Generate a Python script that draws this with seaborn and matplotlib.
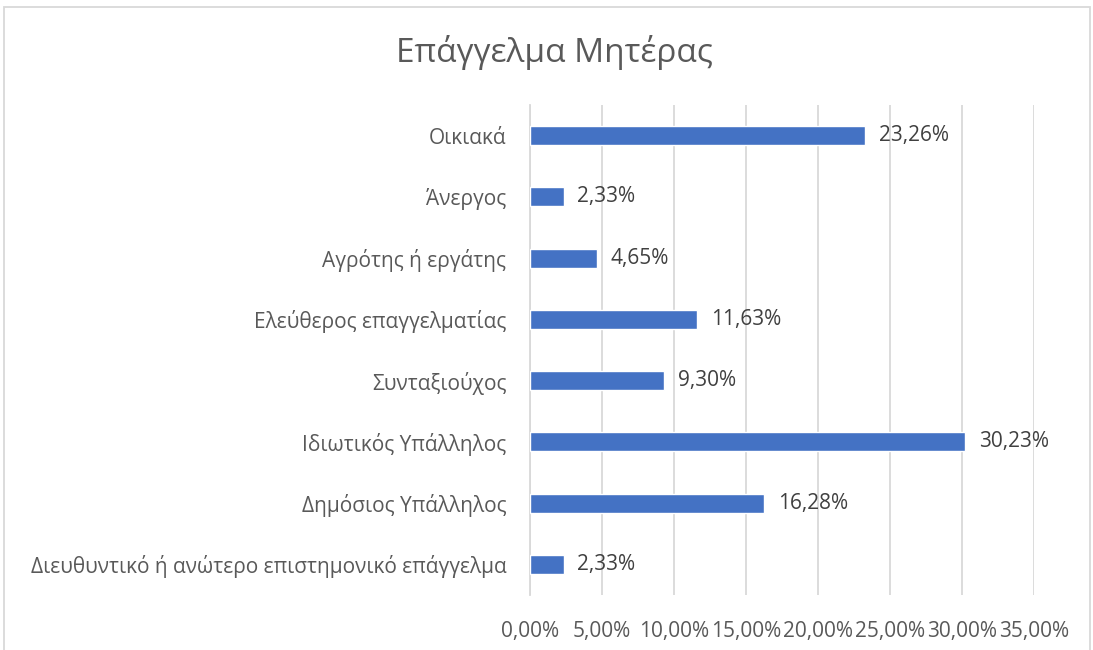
import matplotlib
matplotlib.use("Agg")
import matplotlib.pyplot as plt
import seaborn as sns
import pandas as pd
from matplotlib.patches import Rectangle

categories = [
    "Οικιακά",
    "Άνεργος",
    "Αγρότης ή εργάτης",
    "Ελεύθερος επαγγελματίας",
    "Συνταξιούχος",
    "Ιδιωτικός Υπάλληλος",
    "Δημόσιος Υπάλληλος",
    "Διευθυντικό ή ανώτερο επιστημονικό επάγγελμα",
]
values = [23.26, 2.33, 4.65, 11.63, 9.30, 30.23, 16.28, 2.33]
xticks = [0, 5, 10, 15, 20, 25, 30, 35]
title = "Επάγγελμα Μητέρας"

sns.set_theme(style="white")
plt.rcParams["font.family"] = ["Open Sans", "DejaVu Sans"]

df = pd.DataFrame({"cat": categories, "val": values})

fig = plt.figure(figsize=(10.93, 6.5), dpi=100)
ax = fig.add_axes([530/1093, 1-595/650, 504/1093, 490/650])

sns.barplot(data=df, x="val", y="cat", color="#4472C4", width=0.31,
            saturation=1, ax=ax, zorder=3)

ax.set_xlim(0, 35)
ax.set_xticks(xticks)
ax.set_xticklabels([f"{t:.2f}%".replace(".", ",") for t in xticks])
ax.xaxis.grid(True, color="#D9D9D9", linewidth=1.3, zorder=0)
ax.yaxis.grid(False)
for s in ["top", "right", "bottom"]:
    ax.spines[s].set_visible(False)
ax.spines["left"].set_color("#D9D9D9")
ax.spines["left"].set_linewidth(1.3)
ax.set_xlabel("")
ax.set_ylabel("")
ax.tick_params(axis="x", length=0, pad=19, labelsize=15, labelcolor="#595959")
ax.tick_params(axis="y", length=0, pad=17, labelsize=15, labelcolor="#595959")

for i, v in enumerate(values):
    ax.annotate(f"{v:.2f}%".replace(".", ","), (v, i), xytext=(10, 0),
                textcoords="offset points", va="center", ha="left",
                fontsize=15, color="#404040")

fig.text(554/1093, 1-53/650, title, ha="center", va="center",
         fontsize=24, color="#595959")

fig.patches.append(Rectangle((4/1093, -0.1), 1086/1093, 1-7/650+0.1,
                             transform=fig.transFigure, fill=False,
                             edgecolor="#D9D9D9", linewidth=1.3))

fig.savefig("out.png", dpi=100, facecolor="white")
